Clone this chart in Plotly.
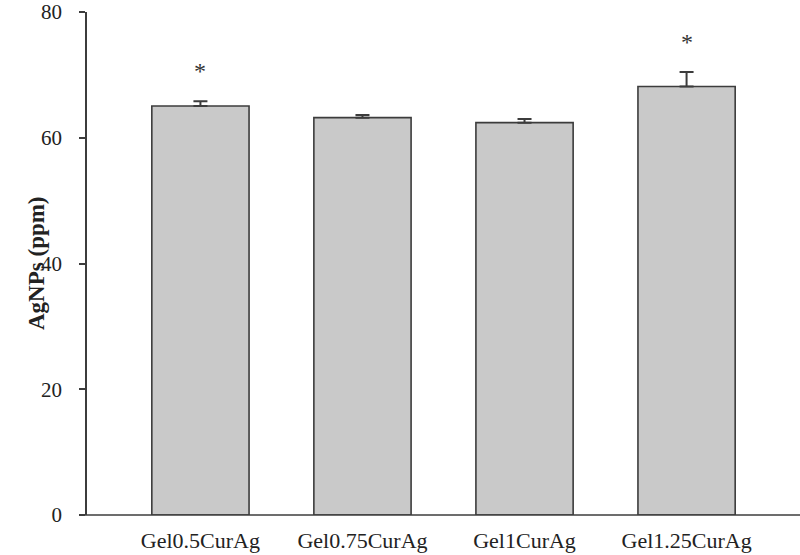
import plotly.graph_objects as go

categories = ["Gel0.5CurAg", "Gel0.75CurAg", "Gel1CurAg", "Gel1.25CurAg"]
means = [65.05, 63.2, 62.4, 68.15]
errors = [0.75, 0.4, 0.6, 2.3]
significant = [True, False, False, True]
y_ticks = [0, 20, 40, 60, 80]

axis_color = "#3c3c3c"
font_family = "Liberation Serif, Times New Roman, serif"

fig = go.Figure()
fig.add_trace(go.Bar(
    x=list(range(len(categories))),
    y=means,
    width=0.6,
    marker=dict(color="#c9c9c9", line=dict(color=axis_color, width=1.6)),
    error_y=dict(type="data", symmetric=False, array=errors,
                 arrayminus=[0] * len(errors), color=axis_color,
                 thickness=2, width=7),
    showlegend=False,
))

for i, (m, e, s) in enumerate(zip(means, errors, significant)):
    if s:
        fig.add_annotation(x=i, y=m + e + 4.8, text="*", showarrow=False,
                           font=dict(family=font_family, size=24, color="#333"),
                           xref="x", yref="y")

fig.add_annotation(x=-65 / 713, y=0.5, xref="paper", yref="paper",
                   text="<b>AgNPs (ppm)</b>", textangle=-90, showarrow=False,
                   font=dict(family=font_family, size=23, color="#222"))

# x axis line extending slightly left of y axis
fig.add_shape(type="line", xref="paper", yref="paper",
              x0=-7 / 713, x1=1, y0=0, y1=0,
              line=dict(color=axis_color, width=1.6))

fig.update_layout(
    width=800, height=555,
    margin=dict(l=87, r=0, t=12, b=40),
    paper_bgcolor="white", plot_bgcolor="white",
    font=dict(family=font_family, color="#222"),
    xaxis=dict(range=[-0.7, 3.7], tickmode="array",
               tickvals=list(range(len(categories))), ticktext=categories,
               showline=False, showgrid=False, zeroline=False, ticks="",
               tickfont=dict(size=22, family=font_family, color="#222"),
               ticklabelstandoff=10),
    yaxis=dict(range=[0, 80], tickmode="array", tickvals=y_ticks,
               showline=True, linecolor=axis_color, linewidth=1.6,
               ticks="outside", ticklen=6, tickwidth=1.6, tickcolor=axis_color,
               showgrid=False, zeroline=False,
               tickfont=dict(size=21, family=font_family, color="#222"),
               ticklabelstandoff=13),
)

fig.write_html(
    "out.html",
    config={"displayModeBar": False},
    post_script="document.body.style.margin='0';document.body.style.overflow='hidden';",
)
